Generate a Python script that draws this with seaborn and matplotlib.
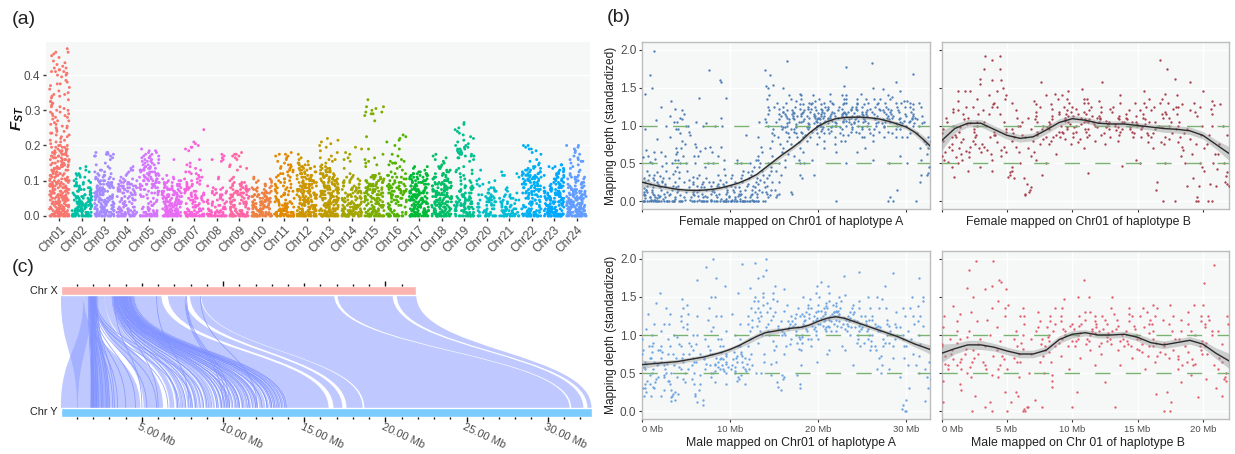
import numpy as np
import pandas as pd
import matplotlib.pyplot as plt
import seaborn as sns
from matplotlib.path import Path
from matplotlib.patches import PathPatch

# ---- (a) Fst: number of windows per 0.005 Fst step, one list per chromosome
chrom_names = ['Chr%02d' % i for i in range(1, 25)]
chrom_colors = ['#F8766D', '#00C0A3', '#A58AFF', '#B983FF', '#D575FE', '#E76BF3', '#F862DC', '#FF61C3',
                '#FF67A4', '#EE8042', '#E18A00', '#CD9600', '#BE9C00', '#A3A500', '#7CAE00', '#53B400',
                '#00BA38', '#00BE67', '#00C08B', '#00BFC4', '#00BCD8', '#00B0F6', '#00A9FF', '#619CFF']
fst_counts = [
    [20, 12, 9, 8, 8, 7, 7, 8, 7, 7, 7, 8, 7, 6, 7, 6, 6, 7, 6, 5, 6, 5, 4, 5, 5, 4, 4, 5, 4, 5, 5, 4, 5, 4, 5, 5, 4, 4, 3, 4, 3, 1, 2, 2, 1, 2, 2, 2, 2, 1, 2, 2, 2, 1, 2, 1, 2, 2, 2, 2, 2, 1, 2, 1, 2, 2, 1, 1, 2, 2, 1, 1, 1, 1, 1, 2, 1, 1, 0, 1, 2, 2, 3, 2, 2, 1, 1, 1, 1, 0, 1, 1, 1, 2, 0, 1],
    [18, 10, 8, 7, 6, 6, 6, 5, 6, 5, 5, 5, 5, 4, 3, 4, 3, 3, 2, 3, 2, 1, 2, 2, 2, 1, 1, 1, 1],
    [18, 10, 8, 7, 7, 6, 6, 6, 6, 6, 6, 6, 6, 5, 5, 5, 5, 5, 5, 4, 4, 4, 3, 3, 2, 2, 2, 1, 1, 1, 1, 0, 1, 1, 3, 3, 3],
    [18, 9, 7, 5, 5, 4, 4, 3, 4, 3, 3, 3, 3, 4, 5, 5, 6, 5, 4, 4, 3, 2, 1, 1, 1, 1, 2, 1, 1],
    [16, 8, 5, 3, 3, 2, 3, 2, 2, 1, 2, 2, 3, 3, 3, 3, 4, 4, 5, 4, 5, 5, 4, 4, 4, 4, 4, 4, 3, 3, 3, 3, 3, 3, 3, 2, 2, 2, 1],
    [20, 11, 9, 8, 8, 7, 7, 7, 7, 7, 6, 6, 6, 5, 5, 5, 4, 4, 4, 3, 3, 2, 1, 1, 0, 0, 0, 0, 0, 0, 0, 0, 1],
    [20, 9, 6, 5, 4, 3, 3, 3, 3, 3, 4, 3, 4, 3, 3, 3, 3, 2, 3, 2, 2, 2, 2, 1, 2, 2, 1, 1, 1, 1, 1, 0, 1, 0, 0, 0, 0, 1, 1, 2, 1, 1, 1, 0, 0, 0, 0, 0, 0, 1],
    [18, 7, 5, 4, 4, 3, 3, 3, 3, 3, 2, 2, 3, 3, 2, 2, 2, 1, 0, 0, 0, 1, 1, 0, 0, 0, 0, 0, 0, 0, 0, 1, 2, 1, 1, 1],
    [20, 9, 6, 5, 4, 4, 4, 4, 4, 3, 4, 4, 5, 5, 5, 5, 4, 4, 3, 3, 1, 1, 1, 0, 0, 0, 1, 1, 2, 1, 0, 0, 1, 1, 2, 2, 1],
    [20, 11, 8, 7, 7, 7, 6, 6, 6, 6, 5, 5, 5, 4, 3, 3, 3, 2, 2, 2, 2, 2, 1],
    [20, 11, 7, 6, 5, 4, 4, 4, 4, 3, 2, 2, 3, 2, 3, 2, 3, 2, 2, 2, 2, 2, 2, 2, 2, 2, 2, 2, 2, 2, 1, 1, 1, 1, 2, 2, 1],
    [18, 11, 8, 7, 6, 6, 6, 5, 5, 5, 5, 5, 5, 5, 5, 5, 5, 5, 5, 5, 5, 4, 4, 4, 4, 3, 4, 4, 3, 3, 2, 1, 1, 1, 0, 1],
    [20, 12, 9, 8, 7, 6, 6, 6, 6, 6, 6, 6, 6, 6, 6, 6, 6, 5, 5, 5, 5, 5, 5, 4, 4, 4, 3, 3, 2, 1, 1, 1, 2, 1, 1, 0, 1, 1, 0, 1, 1, 1, 1, 1, 1],
    [20, 12, 9, 7, 6, 6, 6, 5, 5, 5, 5, 4, 3, 4, 4, 4, 3, 3, 2, 3, 3, 2, 2, 1, 1, 0, 0, 1, 0, 0, 0, 1, 1, 1, 0, 1, 1, 0, 1, 1],
    [18, 10, 6, 5, 5, 5, 5, 4, 5, 5, 5, 5, 5, 5, 6, 5, 5, 5, 5, 4, 4, 4, 4, 3, 1, 0, 0, 0, 1, 1, 1, 1, 1, 1, 0, 1, 0, 0, 1, 0, 0, 0, 0, 0, 0, 1, 0, 0, 0, 0, 0, 0, 0, 0, 1, 0, 0, 1, 2, 2, 1, 1, 2, 0, 0, 0, 1],
    [14, 7, 3, 2, 2, 2, 3, 2, 3, 3, 3, 3, 3, 4, 5, 5, 5, 4, 3, 3, 2, 2, 3, 2, 2, 1, 1, 1, 1, 1, 3, 2, 1, 0, 1, 1, 0, 0, 1, 0, 1, 0, 1, 1, 1, 1, 1],
    [18, 10, 7, 7, 6, 6, 6, 6, 6, 7, 7, 6, 6, 6, 6, 5, 5, 5, 5, 5, 5, 4, 4, 5, 5, 2, 1, 1, 2],
    [18, 10, 7, 6, 6, 6, 6, 6, 6, 6, 6, 6, 6, 5, 5, 5, 5, 5, 5, 5, 4, 3, 3, 2, 3, 2, 2, 2, 2, 1, 1, 1, 1, 1, 1, 1],
    [16, 7, 5, 5, 5, 6, 6, 6, 5, 5, 4, 4, 3, 3, 3, 3, 3, 3, 1, 1, 2, 1, 1, 1, 2, 1, 2, 1, 1, 0, 0, 1, 1, 2, 3, 3, 3, 2, 3, 2, 2, 1, 1, 1, 1, 1, 1, 1, 1, 1, 1, 0, 1, 1],
    [12, 5, 4, 3, 3, 3, 3, 3, 5, 5, 4, 3, 3, 2, 2, 2, 2, 1, 2, 1, 2, 1, 0, 0, 0, 0, 1],
    [15, 7, 6, 5, 4, 4, 3, 3, 3, 3, 3, 2, 2, 1, 1, 1, 1, 0, 0, 0, 0, 0, 1, 2, 1, 1],
    [18, 7, 5, 4, 4, 3, 3, 3, 3, 3, 4, 3, 4, 4, 4, 4, 4, 4, 5, 5, 5, 5, 6, 5, 5, 4, 3, 3, 2, 1, 1, 1, 1, 0, 0, 1, 1, 1, 2, 1, 2],
    [20, 12, 9, 8, 7, 7, 7, 7, 7, 6, 6, 6, 6, 6, 6, 5, 5, 4, 4, 3, 3, 3, 3, 3, 3, 2, 2, 2, 2, 2],
    [20, 12, 9, 8, 7, 7, 7, 7, 7, 6, 6, 6, 6, 5, 5, 4, 4, 3, 3, 3, 3, 3, 4, 2, 1, 1, 1, 1, 1, 1, 1, 2, 2, 1, 1, 1, 1, 1, 1, 1, 2],
]

# ---- (b) mapping depth x100, one list per Mb along the chromosome
female_a = [
    [0, 0, 0, 0, 0, 0, 2, 2, 4, 5, 6, 8, 8, 10, 12, 12, 15, 15, 17, 20, 22, 25, 28, 30, 35, 40, 52, 58, 60, 68, 95, 142, 167],
    [0, 0, 0, 0, 0, 0, 0, 2, 2, 4, 5, 5, 8, 8, 10, 12, 15, 18, 20, 22, 25, 28, 30, 35, 38, 50, 56, 65, 82, 107, 150, 199],
    [0, 0, 0, 0, 0, 3, 5, 7, 10, 12, 15, 18, 20, 22, 25, 27, 30, 33, 40, 47, 50, 60, 65, 100, 125],
    [0, 0, 0, 0, 0, 3, 5, 8, 10, 12, 15, 18, 20, 25, 30, 36, 40, 50, 55, 62, 70, 85, 95, 105, 113, 122, 133],
    [0, 0, 0, 0, 2, 5, 8, 12, 15, 20, 25, 30, 38, 45, 50, 55, 60, 65, 70, 75, 80, 90, 95, 100, 105, 108, 110, 115, 120],
    [0, 0, 0, 2, 5, 8, 10, 12, 15, 18, 22, 25, 28, 32, 40, 50, 60, 75, 88, 92, 100],
    [0, 0, 0, 0, 2, 5, 7, 10, 12, 15, 18, 20, 22, 25, 30, 35, 50, 60, 66, 72, 100, 105, 136],
    [0, 0, 0, 0, 2, 2, 5, 7, 10, 13, 15, 18, 20, 25, 30, 45, 50, 65, 70, 72, 103, 174],
    [0, 0, 0, 0, 3, 5, 8, 10, 12, 15, 18, 20, 22, 25, 28, 35, 50, 60, 72, 100, 110, 158, 160],
    [0, 0, 0, 0, 0, 0, 3, 5, 7, 10, 12, 15, 18, 20, 22, 25, 35, 42, 55, 100, 136],
    [0, 0, 0, 0, 0, 0, 2, 3, 5, 7, 10, 12, 15, 18, 20, 25, 30, 35, 50, 55],
    [0, 0, 0, 0, 0, 0, 0, 3, 5, 8, 10, 13, 15, 18, 20, 25, 30, 35, 40, 50, 88],
    [0, 0, 0, 0, 0, 0, 2, 5, 8, 10, 12, 15, 18, 20, 22, 25, 30, 35, 38, 40, 45, 50, 55],
    [0, 0, 0, 0, 5, 10, 12, 15, 18, 22, 25, 28, 30, 35, 40, 45, 50, 55, 60, 65, 72, 85, 105, 174],
    [5, 8, 10, 12, 15, 20, 25, 30, 35, 40, 45, 50, 60, 70, 80, 90, 95, 100, 105, 108, 115, 120, 125, 135, 140, 150, 152, 154, 167],
    [5, 8, 10, 15, 25, 35, 40, 50, 65, 75, 85, 88, 95, 98, 100, 105, 108, 112, 115, 118, 122, 125, 130, 150],
    [10, 12, 45, 55, 62, 70, 75, 80, 85, 90, 92, 95, 98, 100, 103, 105, 108, 110, 112, 115, 118, 120, 125, 130, 135, 140, 186],
    [35, 50, 55, 60, 70, 78, 85, 90, 92, 95, 98, 100, 102, 105, 108, 110, 112, 113, 115, 116, 118, 120, 122, 125, 128, 132, 142],
    [30, 50, 65, 80, 85, 88, 90, 92, 95, 98, 100, 102, 103, 105, 106, 108, 110, 112, 113, 115, 116, 118, 120, 122, 125, 128, 130, 135, 140],
    [35, 55, 75, 85, 90, 92, 95, 98, 100, 100, 103, 105, 106, 108, 110, 110, 112, 113, 115, 116, 118, 120, 122, 125, 128, 130, 132, 140],
    [70, 80, 85, 90, 93, 95, 98, 100, 100, 103, 105, 106, 108, 110, 110, 112, 113, 115, 116, 118, 120, 122, 125, 128, 130, 135],
    [75, 85, 90, 93, 95, 98, 100, 100, 103, 105, 106, 108, 110, 110, 112, 113, 115, 116, 118, 120, 122, 125, 128, 130, 132, 142],
    [0, 65, 80, 88, 90, 95, 98, 100, 103, 105, 106, 108, 110, 112, 113, 115, 116, 118, 120, 122, 125, 128, 130, 135, 140, 152],
    [50, 80, 88, 92, 95, 98, 100, 102, 105, 106, 108, 110, 112, 113, 115, 116, 118, 120, 122, 125, 130, 135, 140, 177],
    [65, 85, 90, 92, 96, 100, 103, 105, 106, 108, 110, 112, 113, 115, 116, 118, 120, 122, 125, 128, 130, 135, 142],
    [70, 85, 90, 95, 98, 100, 103, 105, 106, 108, 110, 112, 114, 115, 118, 120, 122, 125, 128, 130, 135],
    [55, 80, 88, 92, 95, 100, 103, 105, 108, 110, 112, 115, 118, 120, 122, 125, 128, 130, 135, 150, 183],
    [0, 50, 85, 92, 98, 100, 103, 105, 108, 110, 112, 115, 118, 120, 122, 125, 130, 135, 140, 148],
    [0, 5, 15, 85, 90, 95, 100, 103, 105, 108, 110, 112, 115, 118, 120, 125, 130, 135, 138, 158],
    [60, 85, 95, 100, 103, 105, 106, 108, 110, 112, 115, 118, 120, 125, 130, 132, 145],
    [50, 85, 90, 100, 103, 105, 106, 108, 110, 112, 115, 118, 122, 125, 128, 130, 132, 168],
    [0, 25, 35, 55, 70, 80, 90, 100, 103, 105, 108, 110, 112, 125, 130],
    [13, 22, 35, 37, 45, 62, 70, 75, 80, 85],
]
female_b = [
    [32, 45, 52, 55, 60, 65, 68, 72, 76, 80, 85, 88, 90, 95, 100, 105, 110, 118, 122],
    [40, 50, 55, 58, 62, 66, 70, 78, 82, 85, 92, 98, 102, 108, 115, 120, 125, 133, 145, 145],
    [45, 58, 65, 70, 72, 76, 80, 85, 88, 92, 95, 100, 103, 105, 110, 115, 125, 135, 145, 155, 162],
    [40, 55, 62, 65, 68, 72, 75, 85, 88, 92, 100, 105, 115, 120, 125, 128, 140, 160, 175, 187, 192],
    [60, 65, 68, 72, 78, 88, 92, 95, 105, 115, 125, 130, 135, 140, 145, 150, 160, 175, 192],
    [30, 32, 35, 38, 40, 45, 50, 65, 72, 80, 85, 90, 95, 100, 110, 120, 130],
    [8, 10, 12, 15, 18, 22, 30, 60, 70, 80, 85, 88, 95, 100, 105, 110],
    [35, 55, 65, 75, 82, 85, 88, 92, 96, 100, 105, 108, 112, 118, 125, 128, 133, 140, 157],
    [50, 62, 75, 80, 85, 88, 92, 95, 98, 100, 102, 105, 108, 112, 115, 118, 122, 128, 135, 142],
    [75, 82, 85, 90, 92, 95, 98, 100, 102, 104, 106, 108, 110, 112, 115, 118, 120, 125, 130, 135, 140, 145],
    [70, 78, 82, 85, 90, 92, 95, 98, 100, 102, 105, 108, 110, 112, 115, 118, 122, 125, 130, 135, 148],
    [37, 80, 85, 88, 92, 95, 98, 100, 102, 104, 105, 106, 108, 110, 112, 115, 120, 125, 130, 135],
    [75, 85, 88, 90, 95, 98, 100, 102, 104, 105, 106, 108, 110, 112, 118, 122, 125, 133, 157],
    [47, 80, 88, 92, 94, 96, 98, 100, 102, 104, 105, 108, 110, 112, 118, 125, 130, 140],
    [55, 85, 90, 92, 95, 98, 100, 102, 104, 105, 108, 110, 112, 115, 120, 130],
    [50, 78, 85, 88, 90, 95, 98, 100, 102, 105, 108, 110, 115, 120, 125, 130, 135, 145],
    [0, 15, 25, 70, 78, 85, 90, 95, 98, 100, 105, 110, 115, 120, 125, 130, 135, 187],
    [0, 50, 75, 82, 85, 90, 95, 100, 105, 110, 115, 118, 122, 125, 130, 142, 162, 175],
    [20, 50, 60, 68, 72, 78, 85, 90, 95, 100, 105, 115, 120, 125, 128, 140],
    [0, 0, 5, 20, 30, 45, 50, 62, 75, 82, 88, 100, 112, 118, 125, 130, 157],
    [0, 0, 20, 22, 40, 50, 62, 70, 75, 88, 100, 115, 122, 127, 133, 145],
    [20, 22, 25, 33, 38, 42, 50, 62, 75, 88, 100, 128],
]
male_a = [
    [20, 25, 30, 30, 35, 35, 40, 48, 55, 58, 62, 65, 70, 75, 80, 85, 95, 108, 128],
    [20, 30, 32, 38, 42, 45, 50, 55, 60, 62, 65, 70, 78, 80, 85, 90, 100, 115, 142],
    [20, 28, 40, 45, 48, 50, 55, 60, 62, 65, 70, 75, 78, 80, 85, 95, 105, 115, 135, 155],
    [13, 15, 18, 20, 22, 25, 28, 35, 40, 50, 60, 70, 75, 85, 100, 115, 128],
    [22, 38, 42, 45, 50, 55, 58, 65, 70, 75, 85, 88, 98, 110, 118, 125, 135, 148],
    [35, 42, 50, 55, 60, 65, 70, 75, 80, 85, 90, 100, 108, 115, 128, 140],
    [8, 12, 15, 20, 22, 28, 35, 48, 65, 75, 88, 100, 125, 172],
    [45, 50, 55, 60, 62, 68, 70, 75, 80, 85, 95, 105, 120, 135, 150, 190],
    [38, 50, 52, 55, 58, 60, 62, 65, 68, 70, 75, 78, 85, 95, 110, 125, 150, 200, 175],
    [35, 50, 52, 55, 58, 60, 62, 65, 68, 70, 72, 75, 85, 95, 105, 125, 165],
    [40, 45, 50, 52, 55, 58, 60, 65, 68, 70, 72, 78, 85, 100, 128, 155],
    [35, 42, 48, 52, 55, 58, 62, 65, 70, 72, 75, 78, 85, 95, 115, 193],
    [50, 55, 60, 68, 75, 85, 95, 105, 110, 115, 120, 125, 130, 135, 145, 150, 162, 195],
    [50, 65, 75, 90, 100, 105, 112, 118, 122, 125, 130, 135, 140, 145, 150, 155, 175, 178],
    [48, 62, 80, 92, 100, 105, 110, 115, 120, 125, 130, 135, 142, 148, 155, 200, 185],
    [28, 32, 38, 42, 48, 65, 85, 100, 105, 108, 112, 118, 130, 145, 165],
    [45, 75, 85, 88, 95, 100, 103, 108, 110, 115, 118, 125, 132, 140, 160],
    [30, 35, 48, 82, 90, 95, 98, 100, 105, 110, 112, 115, 118, 122, 125, 128, 135],
    [60, 80, 90, 95, 98, 100, 105, 108, 110, 112, 115, 118, 120, 122, 125, 128, 130, 135, 140, 150],
    [65, 85, 95, 100, 105, 108, 110, 112, 115, 118, 120, 122, 125, 128, 130, 132, 135, 140, 148, 155, 165],
    [75, 95, 105, 108, 110, 112, 115, 118, 120, 122, 125, 128, 130, 132, 135, 138, 142, 150, 170],
    [80, 105, 110, 112, 115, 118, 120, 122, 125, 125, 128, 130, 130, 132, 135, 140, 145, 155, 165],
    [85, 105, 110, 112, 115, 118, 120, 122, 125, 128, 130, 132, 135, 138, 142, 145, 150, 178],
    [60, 80, 100, 105, 108, 110, 112, 115, 118, 120, 122, 125, 128, 130, 135, 140, 152],
    [85, 90, 95, 100, 105, 108, 110, 112, 115, 118, 120, 125, 130, 135, 145, 183],
    [80, 85, 90, 95, 100, 105, 108, 110, 115, 118, 120, 125, 135, 150],
    [55, 70, 80, 85, 92, 100, 105, 110, 112, 115, 120, 125, 135, 150],
    [50, 60, 72, 85, 90, 95, 100, 105, 110, 115, 120, 135, 148, 165],
    [55, 70, 85, 90, 95, 100, 105, 110, 112, 115, 130, 182],
    [0, 0, 2, 8, 15, 45, 70, 85, 95, 100, 110, 125, 135],
    [30, 60, 75, 85, 95, 105, 115, 125, 135, 150],
    [50, 60, 72, 88, 100, 112, 118, 125, 138, 145, 150, 175],
    [13, 30, 42, 45, 48, 50, 55, 65, 75, 85],
]
male_b = [
    [12, 40, 55, 60, 62, 68, 72, 75, 80, 85, 88, 95, 110, 125, 138],
    [28, 35, 50, 55, 60, 65, 68, 75, 82, 90, 95, 98, 105, 118, 128, 162],
    [0, 20, 45, 58, 65, 70, 75, 80, 88, 95, 105, 118, 130, 150, 185, 197],
    [0, 5, 12, 48, 55, 60, 65, 72, 85, 100, 120, 135, 160, 165, 197],
    [25, 45, 55, 60, 68, 72, 80, 92, 110, 125, 135, 145, 160, 170, 172],
    [0, 12, 20, 25, 45, 55, 65, 70, 75, 85, 95, 105, 125, 140],
    [0, 0, 2, 5, 5, 50, 65, 75, 82, 90, 95, 100, 115, 125, 135],
    [5, 15, 50, 65, 72, 80, 85, 88, 95, 105, 110, 118, 130],
    [32, 40, 48, 65, 78, 85, 92, 98, 100, 105, 110, 115, 118, 125, 135],
    [55, 72, 85, 90, 92, 95, 100, 105, 108, 112, 115, 118, 125, 135, 148],
    [5, 25, 70, 85, 92, 95, 100, 103, 108, 112, 115, 120, 125, 130, 150, 173],
    [60, 80, 88, 92, 95, 100, 103, 105, 108, 110, 115, 118, 125, 130, 150],
    [38, 75, 85, 90, 92, 95, 98, 102, 105, 108, 115, 120, 125, 135],
    [5, 60, 80, 85, 88, 92, 95, 100, 105, 108, 112, 120, 128, 150],
    [70, 82, 85, 88, 92, 95, 100, 105, 108, 112, 118, 125, 128, 135],
    [55, 72, 78, 80, 85, 88, 95, 102, 110, 115, 120, 125, 130, 135],
    [22, 65, 72, 78, 85, 90, 95, 105, 115, 120, 125, 135, 140],
    [0, 0, 12, 25, 70, 75, 80, 85, 90, 95, 105, 115, 125, 140],
    [38, 55, 60, 65, 68, 72, 78, 85, 95, 105, 115, 120, 130],
    [18, 48, 60, 62, 68, 75, 80, 85, 92, 100, 105, 118, 125, 140],
    [42, 60, 75, 85, 90, 100, 105, 110, 115, 120, 125, 140, 168, 192],
    [20, 30, 40, 42, 45, 50, 55, 65, 70, 88, 105, 115, 125],
]

# smoothed curves, read once per Mb (last value is the chromosome end)
pos_a = list(range(33)) + [32.7]
pos_b = list(range(23))
smooth_fa = [.25, .22, .195, .175, .155, .145, .14, .145, .155, .175, .205, .24, .29, .35, .44, .53, .62, .70, .79, .90, .99, 1.05, 1.09, 1.105, 1.11, 1.11, 1.10, 1.085, 1.055, 1.02, .98, .91, .81, .73]
smooth_fb = [.80, .96, 1.03, 1.03, .95, .87, .83, .85, .94, 1.04, 1.09, 1.07, 1.03, 1.02, 1.02, 1.00, .98, .96, .95, .93, .87, .75, .63]
smooth_ma = [.61, .62, .63, .64, .65, .67, .69, .71, .74, .77, .81, .86, .92, .98, 1.03, 1.05, 1.07, 1.09, 1.10, 1.13, 1.18, 1.22, 1.24, 1.22, 1.18, 1.14, 1.10, 1.06, 1.02, .98, .93, .88, .84, .81]
smooth_mb = [.76, .82, .87, .87, .84, .79, .75, .75, .80, .94, 1.01, 1.03, 1.00, 1.00, 1.01, .97, .90, .87, .90, .93, .88, .76, .66]
band_fa = [.06, .04, .03, .03, .025, .025, .025, .025, .025, .025, .025, .025, .025, .025, .03, .03, .03, .03, .03, .03, .03, .03, .025, .025, .025, .025, .025, .03, .03, .03, .03, .04, .05, .06]
band_fb = [.13, .06, .05, .05, .05, .05, .05, .05, .05, .05, .05, .04, .04, .04, .04, .04, .04, .05, .05, .05, .05, .06, .09]
band_ma = [.06, .04, .03, .03, .03, .03, .03, .03, .03, .03, .03, .03, .04, .04, .04, .04, .03, .03, .03, .03, .03, .03, .03, .03, .03, .03, .03, .03, .03, .03, .03, .04, .05, .06]
band_mb = [.12, .07, .06, .06, .05, .05, .05, .05, .05, .05, .05, .04, .04, .04, .04, .05, .05, .05, .05, .05, .05, .07, .10]
panel_titles = ['Female mapped on Chr01 of haplotype A', 'Female mapped on Chr01 of haplotype B',
                'Male mapped on Chr01 of haplotype A', 'Male mapped on Chr 01 of haplotype B']
depth_ticks = [0.0, 0.5, 1.0, 1.5, 2.0]
ticks_a = [0, 10, 20, 30]
ticks_b = [0, 5, 10, 15, 20]

# ---- (c) synteny blocks in Mb: start/end on Chr X, start/end on Chr Y
len_x = 21.9
len_y = 32.7
block_x0 = [20.7, 17.05, 8.65, 7.95, 6.6, 4.5, 0.0, 1.4, 2.0, 2.2, 2.7,
            3.10, 3.15, 3.19, 3.24, 3.28, 3.33, 3.37, 3.41, 3.46, 3.50, 3.55, 3.59, 3.64, 3.68, 3.73, 3.77,
            3.82, 3.86, 3.91, 3.95, 4.00, 4.04, 4.09, 4.13, 4.18, 4.22, 4.27, 4.31, 4.36, 4.40, 4.45]
block_x1 = [21.9, 20.45, 16.85, 8.6, 7.6, 6.2, 1.4, 1.9, 2.3, 2.7, 3.1,
            3.14, 3.19, 3.23, 3.28, 3.32, 3.37, 3.41, 3.45, 3.50, 3.54, 3.59, 3.63, 3.68, 3.72, 3.77, 3.81,
            3.86, 3.90, 3.95, 3.99, 4.04, 4.08, 4.13, 4.17, 4.22, 4.26, 4.31, 4.35, 4.40, 4.44, 4.50]
block_y0 = [32.45, 31.45, 18.7, 17.6, 16.8, 14.0, 1.0, 0.0, 1.9, 5.1, 6.7,
            7.10, 7.35, 7.55, 7.80, 8.00, 8.22, 8.48, 8.68, 8.90, 9.12, 9.36, 9.58, 9.80, 10.02, 10.25, 10.48,
            10.68, 10.92, 11.12, 11.35, 11.58, 11.78, 12.02, 12.22, 12.45, 12.68, 12.90, 13.10, 13.32, 13.55, 13.76]
block_y1 = [32.7, 32.2, 31.35, 18.6, 17.35, 16.5, 4.9, 1.05, 3.0, 6.3, 7.0,
            7.26, 7.48, 7.72, 7.92, 8.15, 8.38, 8.60, 8.82, 9.05, 9.28, 9.50, 9.72, 9.95, 10.15, 10.40, 10.60,
            10.85, 11.05, 11.28, 11.50, 11.72, 11.95, 12.15, 12.38, 12.60, 12.82, 13.02, 13.25, 13.48, 13.68, 14.0]
link_x = [1.7, 1.75, 1.8, 1.8, 1.85, 1.85, 1.9, 1.9, 1.9, 1.95, 1.95, 2.0, 2.0, 2.0, 2.05, 2.05, 2.1, 2.1, 2.15, 2.2,
          1.85, 1.9, 1.95, 2.0, 2.05, 2.1, 1.8, 1.95, 2.0, 2.1,
          3.15, 3.2, 3.25, 3.3, 3.3, 3.35, 3.35, 3.4, 3.4, 3.45, 3.45, 3.5, 3.5, 3.55, 3.55, 3.6, 3.6, 3.65, 3.65, 3.7,
          3.7, 3.75, 3.75, 3.8, 3.8, 3.85, 3.85, 3.9, 3.9, 3.95, 3.95, 4.0, 4.0, 4.05, 4.05, 4.1, 4.1, 4.15, 4.2, 4.2,
          4.25, 4.25, 4.3, 4.3, 4.35, 4.4, 4.45, 4.5, 5.9, 7.65, 7.7, 7.75, 8.6, 3.3, 3.9]
link_y = [1.9, 2.0, 1.95, 2.1, 2.0, 2.2, 1.9, 2.05, 2.3, 2.0, 2.5, 1.85, 2.15, 2.6, 2.2, 2.8, 2.3, 3.0, 2.9, 3.3,
          3.5, 4.0, 4.6, 5.3, 5.9, 6.6, 3.2, 7.3, 8.1, 8.8,
          7.2, 7.7, 8.3, 7.5, 9.1, 8.0, 9.9, 8.6, 10.4, 9.0, 11.0, 8.4, 9.6, 10.1, 11.6, 9.3, 12.0, 10.6, 12.4, 9.7,
          11.2, 10.3, 12.7, 10.8, 13.0, 11.5, 13.3, 9.9, 12.1, 10.9, 13.5, 11.8, 12.9, 10.2, 13.2, 11.3, 13.6, 12.4, 11.0, 13.1,
          12.0, 13.7, 11.6, 13.4, 12.7, 13.8, 13.0, 13.9, 7.9, 10.0, 10.2, 10.4, 12.1, 5.0, 6.0]
mb_labels = ['5.00 Mb', '10.00 Mb', '15.00 Mb', '20.00 Mb', '25.00 Mb', '30.00 Mb']
label_pos = [5, 10, 15, 20, 25, 30]

W, H = 1235, 454
sns.set_theme(style='white')
plt.rcParams['font.family'] = ['Liberation Sans', 'DejaVu Sans']
plt.rcParams['mathtext.fontset'] = 'custom'
plt.rcParams['mathtext.bfit'] = 'Liberation Sans:italic:bold'
PANEL = '#F6F8F7'
GREY = '#4D4D4D'
np.random.seed(7)


def add_axes(fig, left, top, right, bottom):
    return fig.add_axes([left / W, 1 - bottom / H, (right - left) / W, (bottom - top) / H])


fig = plt.figure(figsize=(W / 100, H / 100), dpi=100)

# (a) ----------------------------------------------------------------------
ax = add_axes(fig, 46, 42, 590, 218)
rows = []
for name, counts in zip(chrom_names, fst_counts):
    values = np.repeat(np.arange(len(counts)) * 0.005, counts)
    rows.append(pd.DataFrame({'chrom': name, 'fst': values}))
fst_df = pd.concat(rows)
ax.set_facecolor(PANEL)
ax.grid(axis='y', color='white', lw=1)
ax.set_axisbelow(True)
sns.stripplot(data=fst_df, x='chrom', y='fst', hue='chrom', order=chrom_names, hue_order=chrom_names,
              palette=chrom_colors, jitter=0.44, size=2.1, linewidth=0, legend=False, ax=ax)
ax.set_xlim(-0.6, 23.6)
ax.set_ylim(-0.006, 0.494)
ax.set_yticks([0, 0.1, 0.2, 0.3, 0.4])
ax.set_yticklabels(['0.0', '0.1', '0.2', '0.3', '0.4'])
ax.tick_params(axis='y', length=2, width=1, color='#333333', labelsize=8.5, labelcolor=GREY, pad=2, left=True)
ax.tick_params(axis='x', length=2, width=1, color='#333333', labelsize=8.5, labelcolor=GREY, pad=2, bottom=True)
plt.setp(ax.get_xticklabels(), rotation=45, ha='right', rotation_mode='anchor')
ax.set_xlabel('')
ax.set_ylabel('')
sns.despine(ax=ax, left=True, bottom=True)
fig.text(18 / W, 1 - 118 / H, r'$\mathbfit{F}_{\mathbfit{ST}}$', fontsize=11, rotation=90, ha='center', va='center', color='#111111')

# (b) ----------------------------------------------------------------------
boxes = [(642, 42, 930, 209), (941.7, 42, 1229, 209), (642, 251, 930, 419), (941.7, 251, 1229, 419)]
bins_all = [female_a, female_b, male_a, male_b]
smooth_all = [smooth_fa, smooth_fb, smooth_ma, smooth_mb]
band_all = [band_fa, band_fb, band_ma, band_mb]
pos_all = [pos_a, pos_b, pos_a, pos_b]
colors = ['#4F7FB5', '#A8404F', '#6FA5E0', '#E2606F']
xmax = [32.7, 22, 32.7, 22]
ticks_all = [ticks_a, ticks_b, ticks_a, ticks_b]
for i in range(4):
    ax = add_axes(fig, *boxes[i])
    ax.set_facecolor(PANEL)
    ax.grid(color='white', lw=1)
    ax.set_axisbelow(True)
    xs = np.concatenate([np.full(len(b), k + 0.5) for k, b in enumerate(bins_all[i])])
    ys = np.concatenate(bins_all[i]) / 100
    sns.stripplot(x=xs, y=ys, native_scale=True, jitter=0.5, size=1.7, color=colors[i], linewidth=0, ax=ax)
    for level in (0.5, 1.0):
        ax.axhline(level, color='#79B273', lw=1, dashes=(11, 11), zorder=3)
    p = np.array(pos_all[i])
    s = np.array(smooth_all[i])
    b = np.array(band_all[i])
    ax.fill_between(p, s - b, s + b, color='#9A9A9A', alpha=0.45, lw=0, zorder=4)
    sns.lineplot(x=p, y=s, color='#2B2B2B', lw=1, ax=ax, zorder=5, errorbar=None)
    ax.set_xlim(0, xmax[i])
    ax.set_ylim(-0.105, 2.105)
    ax.set_xticks(ticks_all[i])
    ax.set_yticks(depth_ticks)
    ax.tick_params(length=2, width=0.8, color='#333333', labelsize=8.5, labelcolor=GREY, pad=2, left=True, bottom=True)
    if i % 2 == 0:
        ax.set_yticklabels(['%.1f' % v for v in depth_ticks])
        ax.set_ylabel('Mapping depth (standardized)', fontsize=8.6, color='#222222', labelpad=2)
    else:
        ax.set_yticklabels([])
    if i >= 2:
        ax.set_xticklabels(['%d Mb' % v for v in ticks_all[i]], fontsize=6.8)
        ax.get_xticklabels()[0].set_ha('left')
    else:
        ax.set_xticklabels([])
    for spine in ax.spines.values():
        spine.set_color('#BDBDBD')
        spine.set_linewidth(1)
    cx = (boxes[i][0] + boxes[i][2]) / 2
    cy = 222 if i < 2 else 443
    fig.text((cx + (5 if i % 2 == 0 else -7)) / W, 1 - cy / H, panel_titles[i], fontsize=8.8,
             color='#222222', ha='center', va='center')

# (c) ----------------------------------------------------------------------
ax = add_axes(fig, 60.8, 270, 591.5, 424)
ax.set_xlim(0, len_y)
ax.set_ylim(424, 270)
ax.axis('off')
top_y, bot_y = 295, 408
mid_y = (top_y + bot_y) / 2


def ribbon(x0, x1, y0, y1):
    verts = [(x0, top_y), (x1, top_y), (x1, mid_y), (y1, mid_y), (y1, bot_y), (y0, bot_y), (y0, mid_y), (x0, mid_y), (x0, top_y)]
    codes = [Path.MOVETO, Path.LINETO, Path.CURVE4, Path.CURVE4, Path.CURVE4, Path.LINETO, Path.CURVE4, Path.CURVE4, Path.CURVE4]
    return Path(verts, codes)


for x0, x1, y0, y1 in zip(block_x0, block_x1, block_y0, block_y1):
    ax.add_patch(PathPatch(ribbon(x0, x1, y0, y1), fc='#8C9EFF', ec='none', alpha=0.55))
for x, y in zip(link_x, link_y):
    link = Path([(x, top_y), (x, mid_y), (y, mid_y), (y, bot_y)], [Path.MOVETO, Path.CURVE4, Path.CURVE4, Path.CURVE4])
    ax.add_patch(PathPatch(link, fc='none', ec='#8092FF', lw=0.6, alpha=0.8))
ax.barh(290.5, len_x, height=9, left=0, color='#FBB5B0')
ax.barh(412.4, len_y, height=8.7, left=0, color='#7ACBFF')
for mb in range(1, 22):
    tick = 5 if mb % 10 == 0 else (3.5 if mb % 5 == 0 else 2)
    ax.plot([mb, mb], [286, 286 - tick], color='#111111', lw=1, solid_capstyle='butt')
for mb in range(1, 33):
    tick = 5 if mb % 5 == 0 else 2
    ax.plot([mb, mb], [416.7, 416.7 + tick], color='#111111', lw=1, solid_capstyle='butt', clip_on=False)
for mb, lab in zip(label_pos, mb_labels):
    ax.text(mb - 0.2, 426, lab, fontsize=8, color=GREY, rotation=-25, rotation_mode='anchor', ha='left', va='center', clip_on=False)
ax.text(-0.2, 290.5, 'Chr X', fontsize=7.8, color='#222222', ha='right', va='center')
ax.text(-0.2, 412.4, 'Chr Y', fontsize=7.8, color='#222222', ha='right', va='center')

fig.text(12 / W, 1 - 19 / H, '(a)', fontsize=14, color='#222222', va='center')
fig.text(607 / W, 1 - 18 / H, '(b)', fontsize=14, color='#222222', va='center')
fig.text(12 / W, 1 - 267 / H, '(c)', fontsize=14, color='#222222', va='center')

fig.savefig('out.png', dpi=100)
